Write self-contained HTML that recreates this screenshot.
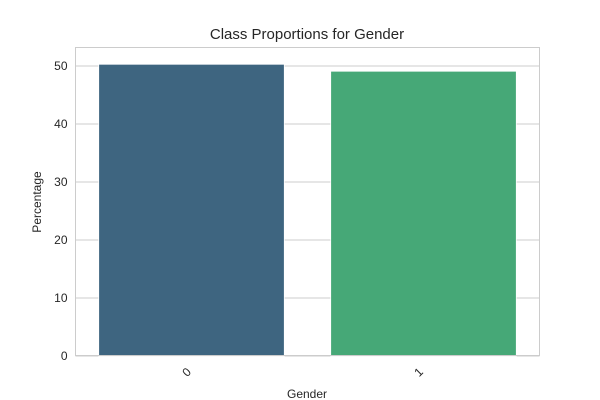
<!DOCTYPE html>
<html><head><meta charset="utf-8"><style>
body{margin:0;background:#fff;}
svg{display:block;font-family:"Liberation Sans","DejaVu Sans",sans-serif;}
</style></head><body>
<svg id="chart" width="600" height="400">
<text x="307" y="39" text-anchor="middle" font-size="15" fill="#262626">Class Proportions for Gender</text>
<g id="grid"></g>
<g id="bars"></g>
<rect x="75.5" y="47.5" width="464" height="308" fill="none" stroke="#cccccc" stroke-width="1"/>
<g id="yticks"></g>
<g id="xticks"></g>
<text x="307" y="398" text-anchor="middle" font-size="12" fill="#262626">Gender</text>
<text transform="translate(41,202) rotate(-90)" text-anchor="middle" font-size="12" fill="#262626">Percentage</text>
</svg>
<script>
const categories = ["0","1"];
const values = [50.3, 49.1];
const colors = ["#3e6580","#46a877"];
const yTicks = [0,10,20,30,40,50];
const NS="http://www.w3.org/2000/svg";
const left=75.5,right=539.5,y0=356,ppu=5.8;
const y=v=>y0-v*ppu;
const band=(right-left)/categories.length;
const xc=i=>left+band*(i+0.5);
const grid=document.getElementById('grid'),yt=document.getElementById('yticks'),bars=document.getElementById('bars'),xt=document.getElementById('xticks');
yTicks.forEach(t=>{
  const l=document.createElementNS(NS,'line');
  l.setAttribute('x1',left);l.setAttribute('x2',right);l.setAttribute('y1',y(t));l.setAttribute('y2',y(t));
  l.setAttribute('stroke','#cccccc');
  
  
  grid.appendChild(l);
  const tx=document.createElementNS(NS,'text');
  tx.setAttribute('x',left-8);tx.setAttribute('y',y(t)+4);tx.setAttribute('text-anchor','end');
  tx.setAttribute('font-size','12');tx.setAttribute('fill','#262626');tx.textContent=t;
  
  
  yt.appendChild(tx);
});
categories.forEach((c,i)=>{
  const w=band*0.8;
  const r=document.createElementNS(NS,'rect');
  r.setAttribute('x',xc(i)-w/2);r.setAttribute('width',w);
  r.setAttribute('y',y(values[i]));r.setAttribute('height',y0-y(values[i]));
  r.setAttribute('fill',colors[i]);r.setAttribute('stroke','#ffffff');r.setAttribute('stroke-width','0.8');
  
  
  bars.appendChild(r);
  const tx=document.createElementNS(NS,'text');
  tx.setAttribute('transform','translate('+(xc(i)-2)+',375) rotate(-45)');
  tx.setAttribute('text-anchor','middle');tx.setAttribute('font-size','12');tx.setAttribute('fill','#262626');
  tx.textContent=c;
  
  
  xt.appendChild(tx);
});
</script>
</body></html>
